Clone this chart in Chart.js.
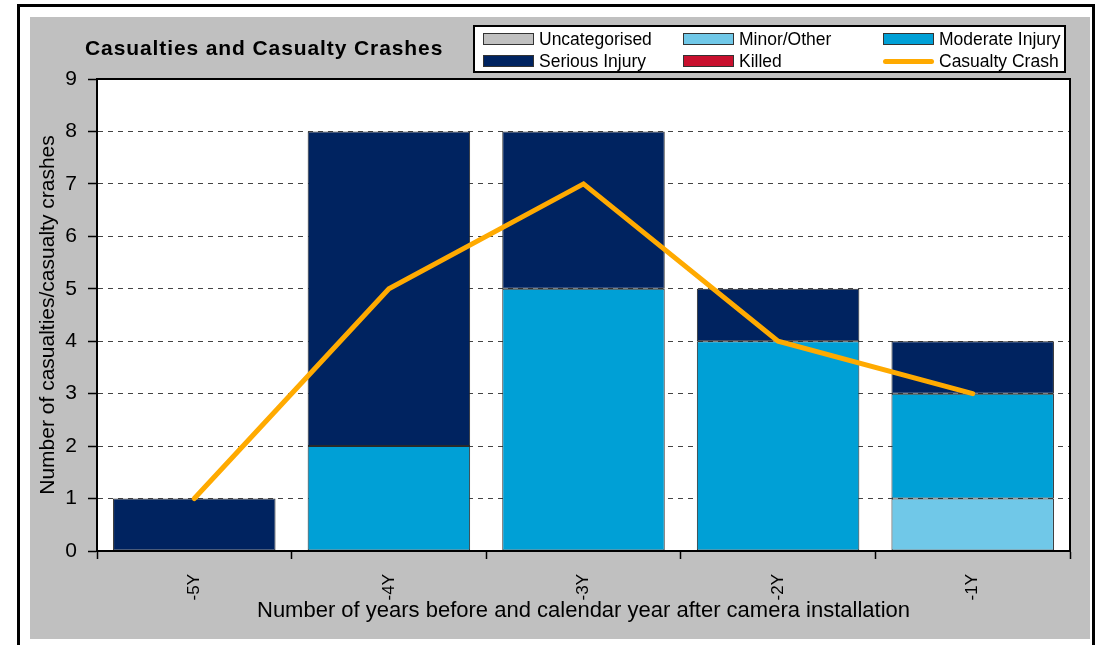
<!DOCTYPE html>
<html>
<head>
<meta charset="utf-8">
<script src="https://cdn.jsdelivr.net/npm/chart.js@4.4.1/dist/chart.umd.min.js"></script>
<style>
  html, body { margin: 0; padding: 0; background: #fff; overflow: hidden; }
  body { width: 1106px; height: 645px; position: relative; font-family: "Liberation Sans", Arial, sans-serif; }
  #frame { position: absolute; left: 17px; top: 4px; width: 1078px; height: 660px; border: 3px solid #000; box-sizing: border-box; }
  #panel { position: absolute; left: 30px; top: 17px; width: 1060px; height: 622px; background: #c0c0c0; }
  #chartTitle { position: absolute; left: 55px; top: 18px; font-size: 21px; line-height: 26px; font-weight: bold; color: #000; letter-spacing: 0.9px; }
  #legend { position: absolute; left: 443px; top: 8px; width: 593px; height: 48px; background: #fff; border: 2px solid #000; box-sizing: border-box; }
  .item { position: absolute; height: 22px; line-height: 22px; font-size: 17.5px; color: #000; white-space: nowrap; }
  .swatch { position: absolute; left: 0; top: 5px; width: 51px; height: 12px; box-sizing: border-box; border: 1px solid #333; }
  .swatch.line { border: none; height: 5px; top: 9px; border-radius: 3px; }
  .label { position: absolute; left: 56px; top: 0; }
</style>
</head>
<body>
<div id="frame"></div>
<div id="panel">
  <canvas id="crashChart" width="1060" height="622"></canvas>
  <div id="chartTitle">Casualties and Casualty Crashes</div>
  <div id="legend"></div>
</div>
<script>
const years = ["-5Y", "-4Y", "-3Y", "-2Y", "-1Y"];
const uncategorised = [0, 0, 0, 0, 0];
const minorOther = [0, 0, 0, 0, 1];
const moderateInjury = [0, 2, 5, 4, 2];
const seriousInjury = [1, 6, 3, 1, 1];
const killed = [0, 0, 0, 0, 0];
const casualtyCrash = [1, 5, 7, 4, 3];
const yTicks = [0, 1, 2, 3, 4, 5, 6, 7, 8, 9];

const FONT = "'Liberation Sans', Arial, sans-serif";

// white plot area + black frame round it
const plotArea = {
    id: 'plotArea',
    beforeDraw(chart) {
        const a = chart.chartArea, ctx = chart.ctx;
        ctx.save();
        ctx.fillStyle = '#fff';
        ctx.fillRect(a.left, a.top, a.right - a.left, a.bottom - a.top);
        ctx.restore();
    },
    afterDatasetsDraw(chart) {
        const a = chart.chartArea, ctx = chart.ctx;
        ctx.save();
        ctx.strokeStyle = '#000';
        ctx.lineWidth = 2;
        ctx.strokeRect(a.left, a.top, a.right - a.left, a.bottom - a.top);
        ctx.restore();
    }
};

function bar(label, data, color) {
    return {
        type: 'bar', label: label, data: data, backgroundColor: color,
        borderColor: '#2a2a2a', borderWidth: 1, borderSkipped: false,
        barPercentage: 0.835, categoryPercentage: 1, order: 1, stack: 'cas'
    };
}

const chart = new Chart(document.getElementById("crashChart"), {
    data: {
        labels: years,
        datasets: [
            bar('Uncategorised', uncategorised, '#c0c0c0'),
            bar('Minor/Other', minorOther, '#70c8e8'),
            bar('Moderate Injury', moderateInjury, '#00a0d6'),
            bar('Serious Injury', seriousInjury, '#002360'),
            bar('Killed', killed, '#c8102e'),
            {
                type: 'line', label: 'Casualty Crash', data: casualtyCrash,
                borderColor: '#ffaa00', backgroundColor: '#ffaa00', borderWidth: 5,
                pointRadius: 0, tension: 0, fill: false, order: 0, stack: 'crash',
                borderCapStyle: 'round', borderJoinStyle: 'miter'
            }
        ]
    },
    options: {
        responsive: false,
        animation: false,
        layout: { padding: { top: 62, right: 20, left: 0, bottom: 0 } },
        plugins: { legend: { display: false }, tooltip: { enabled: false } },
        scales: {
            x: {
                stacked: true,
                offset: true,
                grid: { offset: true, drawOnChartArea: false, drawTicks: true, tickLength: 8, tickColor: '#000', tickWidth: 1.5 },
                border: { color: '#000', width: 2 },
                ticks: { color: '#000', font: { family: FONT, size: 17 }, minRotation: 90, maxRotation: 90, padding: 15 },
                title: { display: true, text: 'Number of years before and calendar year after camera installation', color: '#000', font: { family: FONT, size: 22 }, padding: { top: 0, bottom: 15 } },
                afterFit(scale) { scale.height = 88; }
            },
            y: {
                stacked: true,
                min: 0, max: 9,
                afterBuildTicks(scale) { scale.ticks = yTicks.map(v => ({ value: v })); },
                grid: { color: '#444', lineWidth: 1, tickLength: 9, tickColor: '#000', tickWidth: 1.5, tickBorderDash: [] },
                border: { color: '#000', width: 2, dash: [5, 5] },
                ticks: { color: '#000', font: { family: FONT, size: 21 }, padding: 11 },
                title: { display: true, text: 'Number of casualties/casualty crashes', color: '#000', font: { family: FONT, size: 21 }, padding: { top: 6 } },
                afterFit(scale) { scale.width = 67; }
            }
        }
    },
    plugins: [plotArea]
});

// legend laid out in three columns like the original
const legendEl = document.getElementById("legend");
const cols = [8, 208, 408];
const rows = [1, 23];
const slots = [[0, 0], [1, 0], [2, 0], [0, 1], [1, 1], [2, 1]];
chart.data.datasets.forEach(function(ds, i) {
    const item = document.createElement("div");
    item.className = "item";
    item.style.left = cols[slots[i][0]] + "px";
    item.style.top = rows[slots[i][1]] + "px";
    const sw = document.createElement("div");
    sw.className = "swatch" + (ds.type === 'line' ? " line" : "");
    sw.style.background = ds.type === 'line' ? ds.borderColor : ds.backgroundColor;
    const lb = document.createElement("span");
    lb.className = "label";
    lb.textContent = ds.label;
    item.appendChild(sw);
    item.appendChild(lb);
    legendEl.appendChild(item);
});
</script>
</body>
</html>
